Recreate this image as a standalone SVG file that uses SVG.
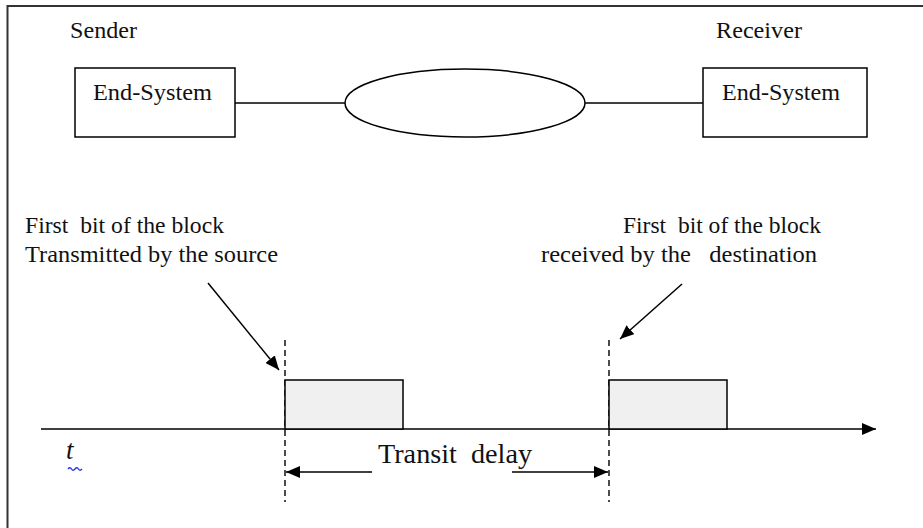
<svg xmlns="http://www.w3.org/2000/svg" width="923" height="528" viewBox="0 0 923 528">
<style>
.ln{stroke:#000;stroke-width:1.5;fill:none}
.box{stroke:#000;stroke-width:1.5;fill:#fff}
.blk{stroke:#000;stroke-width:1.5;fill:#f0f0f0}
.dash{stroke:#000;stroke-width:1.4;stroke-dasharray:6,4;fill:none}
.t{font-family:"Liberation Serif","Times New Roman",serif;font-size:23px;fill:#111}
.big{font-size:27px}
</style>
<defs>
<marker id="ah2" viewBox="0 0 14 12" refX="14" refY="6" markerWidth="14" markerHeight="12" markerUnits="userSpaceOnUse" orient="auto">
<path d="M0,0 L14,6 L0,12 z" fill="#000"/>
</marker>
</defs>
<rect width="923" height="528" fill="#fff"/>
<path d="M7.5,528 V6 H923" stroke="#333" stroke-width="2" fill="none"/>

<text class="t" x="70" y="38" textLength="67" lengthAdjust="spacingAndGlyphs">Sender</text>
<text class="t" x="716" y="38" textLength="86" lengthAdjust="spacingAndGlyphs">Receiver</text>

<g id="connectors">
<line class="ln" x1="235" y1="103" x2="345" y2="103"/>
<line class="ln" x1="585" y1="103" x2="703" y2="103"/>
<line class="ln" x1="41" y1="429" x2="876" y2="429" marker-end="url(#ah2)"/>
<line class="ln" x1="208" y1="283" x2="279" y2="370" marker-end="url(#ah2)"/>
<line class="ln" x1="682" y1="284" x2="620" y2="339" marker-end="url(#ah2)"/>
<line class="ln" x1="372" y1="472" x2="286" y2="472" marker-end="url(#ah2)"/>
<line class="ln" x1="512" y1="472" x2="608" y2="472" marker-end="url(#ah2)"/>
<line class="dash" x1="285" y1="340" x2="285" y2="502"/>
<line class="dash" x1="609" y1="340" x2="609" y2="502"/>
</g>

<g id="sender">
<rect class="box" x="75" y="68" width="160" height="69"/>
<text class="t" x="93" y="100" textLength="119" lengthAdjust="spacingAndGlyphs">End-System</text>
</g>
<g id="network">
<ellipse class="box" cx="465" cy="103" rx="120" ry="34"/>
</g>
<g id="receiver">
<rect class="box" x="703" y="68" width="164" height="69"/>
<text class="t" x="722" y="100" textLength="118" lengthAdjust="spacingAndGlyphs">End-System</text>
</g>

<g id="block1">
<rect class="blk" x="285" y="380" width="118" height="49"/>
</g>
<g id="block2">
<rect class="blk" x="609" y="380" width="118" height="49"/>
</g>

<g id="label-source">
<text class="t" x="25" y="233" xml:space="preserve" textLength="199" lengthAdjust="spacingAndGlyphs">First  bit of the block</text>
<text class="t" x="25" y="262" textLength="253" lengthAdjust="spacingAndGlyphs">Transmitted by the source</text>
</g>
<g id="label-dest">
<text class="t" x="623" y="233" xml:space="preserve" textLength="198" lengthAdjust="spacingAndGlyphs">First  bit of the block</text>
<text class="t" x="541" y="262" xml:space="preserve" textLength="276" lengthAdjust="spacingAndGlyphs">received by the   destination</text>
</g>
<g id="label-t">
<text class="t big" x="66" y="459" font-style="italic">t</text>
<path d="M68,469 q2,-2.5 3.5,0 t3.5,0 t3.5,0 t3.5,0" stroke="#2233ee" stroke-width="1.3" fill="none"/>
</g>
<g id="label-delay">
<text class="t big" x="378" y="463" xml:space="preserve" textLength="154" lengthAdjust="spacingAndGlyphs">Transit  delay</text>
</g>
</svg>
